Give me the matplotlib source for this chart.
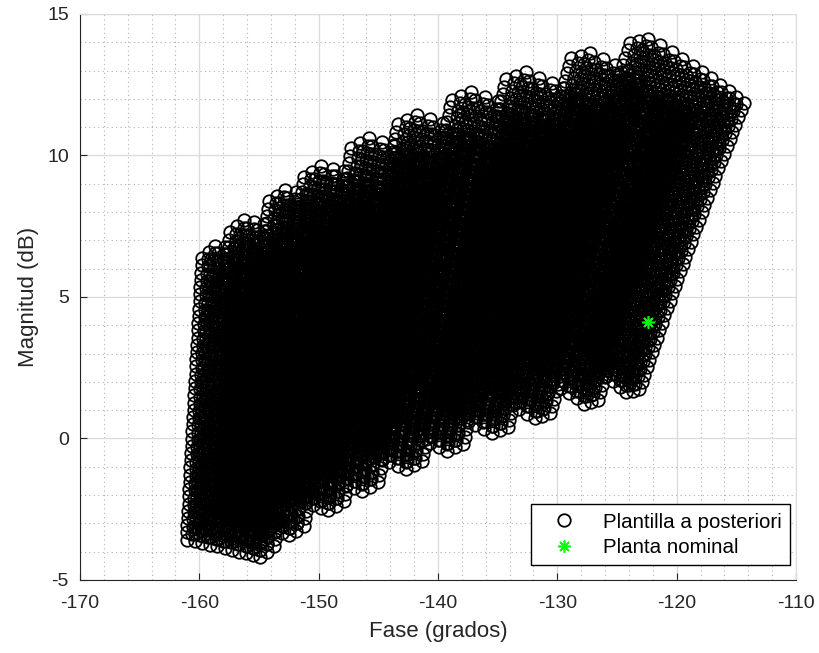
import numpy as np
import matplotlib.pyplot as plt
from matplotlib.ticker import MultipleLocator

# Uncertain plant evaluated at a single (normalised) frequency w = 1:
#   P(jw) = k / (jw * (b + j*(a*s + c*b)))
# a -> damping term (main values), s -> fine spread of a,
# b -> stiffness term, k -> gain (c is coupled to the gain grid)
A_VALUES = [0.634, 0.76, 0.92, 1.08, 1.27, 1.47, 1.72, 1.95, 2.27, 2.56]
A_SPREAD = [1.0, 1.03, 1.06]
B_RANGE = (1.0, 1.4)
N_B = 11
GAIN_DB_RANGE = (6.2, 15.6)
COUPLING_RANGE = (0.2, 0.0)
N_GAIN = 40

# nominal plant at the same frequency
NOMINAL_PHASE = -122.4
NOMINAL_MAG = 4.1

plt.rcParams['font.family'] = ['Liberation Sans', 'DejaVu Sans']
plt.rcParams['axes.unicode_minus'] = False

a = (np.array(A_VALUES)[:, None] * np.array(A_SPREAD)[None, :]).ravel()
a = a[:, None, None]
b = np.linspace(*B_RANGE, N_B)[None, :, None]
gain_db = np.linspace(*GAIN_DB_RANGE, N_GAIN)
c = np.linspace(*COUPLING_RANGE, N_GAIN)[None, None, :]
k = (10 ** (gain_db / 20))[None, None, :]

resp = k / (1j * (b + 1j * (a + c * b)))
phase = np.degrees(np.angle(resp)).ravel()
mag = (20 * np.log10(np.abs(resp))).ravel()

fig = plt.figure(figsize=(8.19, 6.53), dpi=100)
ax = fig.add_axes([0.0977, 0.1118, 0.8742, 0.8668])

ax.plot(phase, mag, 'o', color='black', markerfacecolor='none',
        markersize=9, markeredgewidth=1.3, linestyle='none',
        label='Plantilla a posteriori')
ax.plot([NOMINAL_PHASE], [NOMINAL_MAG], linestyle='none', marker=(8, 2, 0),
        color='#00ff00', markersize=9, markeredgewidth=1.2,
        label='Planta nominal')

ax.set_xlim(-170, -110)
ax.set_ylim(-5, 15)
ax.xaxis.set_major_locator(MultipleLocator(10))
ax.yaxis.set_major_locator(MultipleLocator(5))
ax.xaxis.set_minor_locator(MultipleLocator(2))
ax.yaxis.set_minor_locator(MultipleLocator(1))
ax.set_axisbelow(True)
ax.grid(which='major', color='#dcdcdc', linewidth=1.0, linestyle='-')
ax.grid(which='minor', color='#b0b0b0', linewidth=0.8, linestyle=(0, (1, 3)))
ax.tick_params(which='both', direction='in', labelsize=14, colors='#262626',
               top=False, right=False)
ax.tick_params(which='minor', length=0)
ax.tick_params(which='major', length=5)
ax.tick_params(axis='x', pad=11)
ax.tick_params(axis='y', pad=8)
for side in ('top', 'right'):
    ax.spines[side].set_color('#dcdcdc')
for side in ('left', 'bottom'):
    ax.spines[side].set_color('#262626')

ax.set_xlabel('Fase (grados)', fontsize=16, color='#262626', labelpad=6)
ax.set_ylabel('Magnitud (dB)', fontsize=16, color='#262626', labelpad=6)

leg = ax.legend(loc='lower right', bbox_to_anchor=(0.9916, 0.0265),
                fontsize=14.8, fancybox=False, edgecolor='black',
                framealpha=1, borderpad=0.4, handlelength=2.4,
                handletextpad=0.7, labelspacing=0.3, borderaxespad=0)
leg.get_frame().set_linewidth(1.0)

fig.savefig('out.png', dpi=100)
